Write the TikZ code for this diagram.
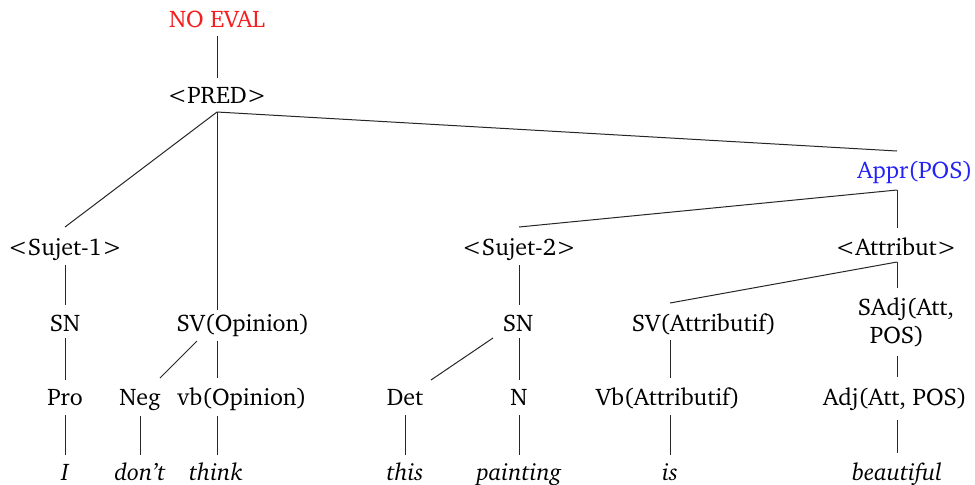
\documentclass[tikz,border=0pt]{standalone}
\usepackage[T1]{fontenc}
\usepackage{charter}
\definecolor{evalred}{RGB}{245,30,30}
\definecolor{apprblue}{RGB}{35,35,245}
\begin{document}
\begin{tikzpicture}[x=0.5pt,y=-0.5pt,
  lbl/.style={anchor=base,inner sep=0pt,font=\fontsize{12}{14}\selectfont},
  word/.style={lbl,font=\fontsize{12}{14}\selectfont\itshape},
  edge/.style={line width=0.5pt,draw=black!85}]
\useasboundingbox (0,0) rectangle (975,484);
% nodes
\node[lbl,text=evalred] (noeval) at (217,27) {NO EVAL};
\node[lbl] (pred) at (217,103) {\textless PRED\textgreater};
\node[lbl,text=apprblue] (appr) at (915,178) {Appr(POS)};
\node[lbl] (suj1) at (65,255) {\textless Sujet-1\textgreater};
\node[lbl] (suj2) at (519,255) {\textless Sujet-2\textgreater};
\node[lbl] (attr) at (896,255) {\textless Attribut\textgreater};
\node[lbl] (sn1) at (65,331) {SN};
\node[lbl] (svop) at (243,331) {SV(Opinion)};
\node[lbl] (sn2) at (518,331) {SN};
\node[lbl] (svat) at (704,331) {SV(Attributif)};
\node[lbl] (sadja) at (906,315) {SAdj(Att,};
\node[lbl] (sadjb) at (897,343) {POS)};
\node[lbl] (pro) at (65,405) {Pro};
\node[lbl] (neg) at (140,405) {Neg};
\node[lbl] (vbop) at (242,405) {vb(Opinion)};
\node[lbl] (det) at (405,405) {Det};
\node[lbl] (n) at (519,405) {N};
\node[lbl] (vbat) at (668,405) {Vb(Attributif)};
\node[lbl] (adj) at (895,405) {Adj(Att, POS)};
\node[word] (wi) at (65,480) {I};
\node[word] (wdont) at (140,480) {don't};
\node[word] (wthink) at (216,480) {think};
\node[word] (wthis) at (405,480) {this};
\node[word] (wpaint) at (519,480) {painting};
\node[word] (wis) at (670,480) {is};
\node[word] (wbeau) at (897,480) {beautiful};
% attachment points
\coordinate (noeval-b) at (217,36);
\coordinate (pred-t) at (217,78);
\coordinate (pred-b) at (217,112);
\coordinate (appr-t) at (897,151);
\coordinate (appr-b) at (897,190);
\coordinate (suj1-t) at (65,227);
\coordinate (suj1-b) at (65,265);
\coordinate (suj2-t) at (519,227);
\coordinate (suj2-b) at (519,265);
\coordinate (attr-t) at (897,228);
\coordinate (attr-b) at (897,262);
\coordinate (sn1-t) at (65,305);
\coordinate (sn1-b) at (65,338);
\coordinate (svop-t) at (217,310);
\coordinate (svop-b) at (217,341);
\coordinate (svop-bl) at (197,341);
\coordinate (sn2-t) at (519,305);
\coordinate (sn2-b) at (519,338);
\coordinate (sn2-bl) at (493,338);
\coordinate (svat-t) at (670,303);
\coordinate (svat-b) at (670,340);
\coordinate (sadj-t) at (897,288);
\coordinate (sadj-b) at (897,356);
\coordinate (pro-t) at (65,380);
\coordinate (pro-b) at (65,415);
\coordinate (neg-t) at (160,378);
\coordinate (neg-b) at (140,416);
\coordinate (vbop-t) at (217,378);
\coordinate (vbop-b) at (217,416);
\coordinate (det-t) at (431,380);
\coordinate (det-b) at (405,415);
\coordinate (n-t) at (519,380);
\coordinate (n-b) at (519,415);
\coordinate (vbat-t) at (670,378);
\coordinate (vbat-b) at (670,415);
\coordinate (adj-t) at (897,377);
\coordinate (adj-b) at (897,420);
\coordinate (wi-t) at (65,455);
\coordinate (wdont-t) at (140,455);
\coordinate (wthink-t) at (217,455);
\coordinate (wthis-t) at (405,455);
\coordinate (wpaint-t) at (519,455);
\coordinate (wis-t) at (670,455);
\coordinate (wbeau-t) at (897,453);
% connectors
\draw[edge] (noeval-b) -- (pred-t);
\draw[edge] (pred-b) -- (suj1-t);
\draw[edge] (pred-b) -- (svop-t);
\draw[edge] (pred-b) -- (appr-t);
\draw[edge] (appr-b) -- (suj2-t);
\draw[edge] (appr-b) -- (attr-t);
\draw[edge] (suj1-b) -- (sn1-t);
\draw[edge] (sn1-b) -- (pro-t);
\draw[edge] (pro-b) -- (wi-t);
\draw[edge] (svop-bl) -- (neg-t);
\draw[edge] (svop-b) -- (vbop-t);
\draw[edge] (neg-b) -- (wdont-t);
\draw[edge] (vbop-b) -- (wthink-t);
\draw[edge] (suj2-b) -- (sn2-t);
\draw[edge] (sn2-bl) -- (det-t);
\draw[edge] (sn2-b) -- (n-t);
\draw[edge] (det-b) -- (wthis-t);
\draw[edge] (n-b) -- (wpaint-t);
\draw[edge] (attr-b) -- (svat-t);
\draw[edge] (attr-b) -- (sadj-t);
\draw[edge] (svat-b) -- (vbat-t);
\draw[edge] (vbat-b) -- (wis-t);
\draw[edge] (sadj-b) -- (adj-t);
\draw[edge] (adj-b) -- (wbeau-t);
\end{tikzpicture}
\end{document}
